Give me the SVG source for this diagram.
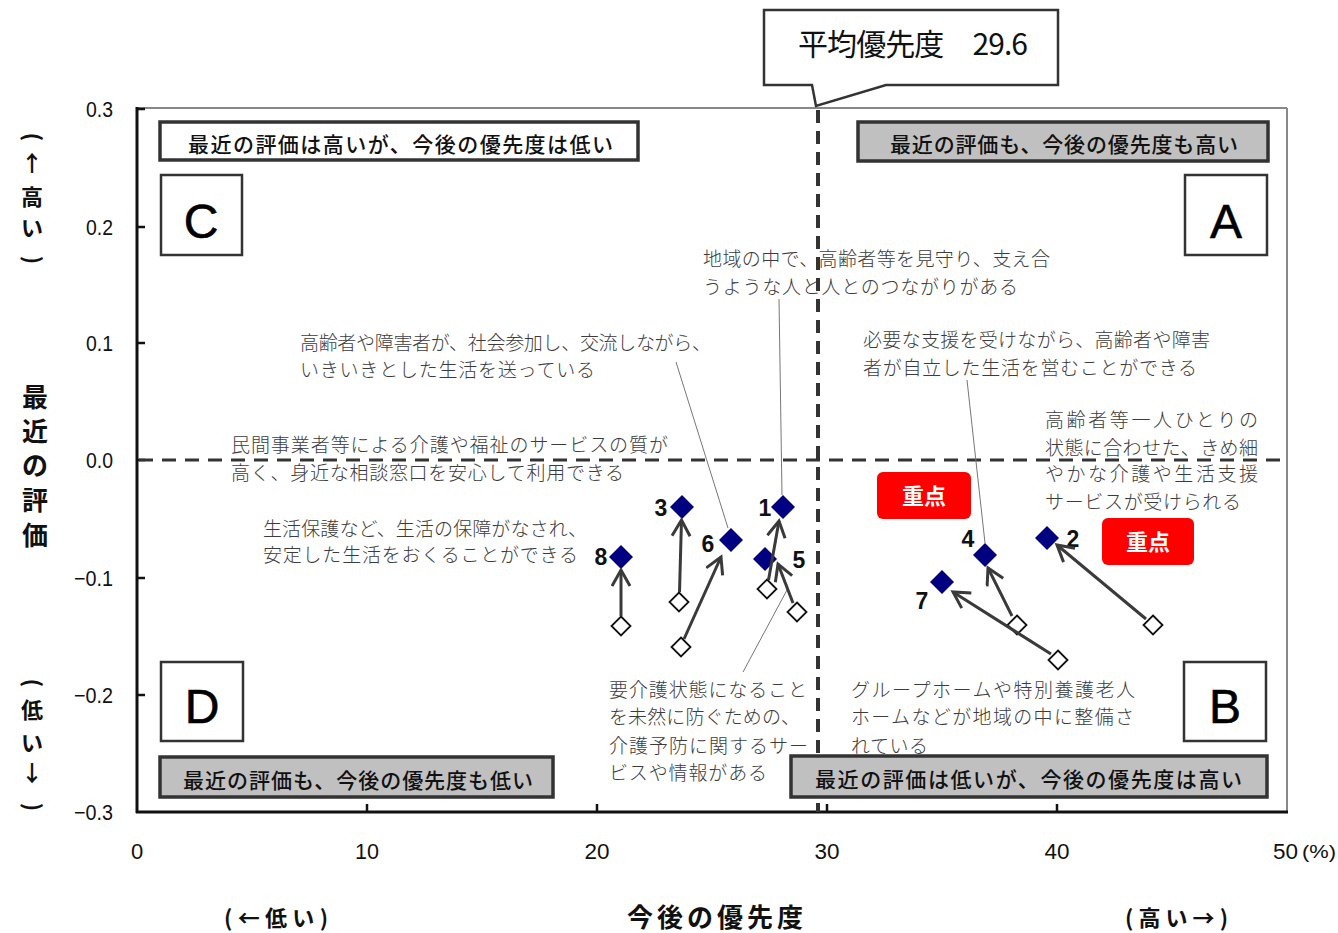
<svg xmlns="http://www.w3.org/2000/svg" width="1338" height="933" viewBox="0 0 1338 933">
<defs>
<style>
.ax{font-family:"Liberation Sans",Arial,sans-serif;font-size:22px;fill:#111}
.ann{font-family:"Noto Sans CJK JP",sans-serif;font-size:19px;fill:#3c3c3c;font-weight:300}
.hdr{font-family:"Noto Sans CJK JP",sans-serif;font-size:21px;fill:#111;font-weight:500}
.hbox{stroke:#333;stroke-width:3.5}
.qbox{fill:#fff;stroke:#333;stroke-width:2.5}
.ql{font-family:"Liberation Sans",Arial,sans-serif;font-size:48px;fill:#000;text-anchor:middle;stroke:#000;stroke-width:0.6}
.num{font-family:"Liberation Sans",Arial,sans-serif;font-size:23px;font-weight:bold;fill:#111;text-anchor:middle}
.fd{fill:#000080}
.od{fill:#fff;stroke:#111;stroke-width:1.8}
.arr{stroke:#3a3a3a;stroke-width:3;fill:none;marker-end:url(#ah)}
.lead{stroke:#777;stroke-width:1;fill:none}
.red{fill:#ff0000}
.rt{font-family:"Noto Sans CJK JP",sans-serif;font-size:22px;font-weight:bold;fill:#fff;text-anchor:middle}
.tt{font-family:"Noto Sans CJK JP",sans-serif;font-weight:bold;fill:#111}
.vt{font-family:"Noto Sans CJK JP",sans-serif;font-weight:bold;fill:#111;font-size:22px;text-anchor:middle}
</style>
<marker id="ah" markerUnits="userSpaceOnUse" markerWidth="24" markerHeight="24" refX="17" refY="10" orient="auto">
<path d="M1,1 L17,10 L1,19" fill="none" stroke="#3a3a3a" stroke-width="3"/>
</marker>
<path id="fdia" d="M0,-12 L12,0 L0,12 L-12,0Z"/>
<path id="odia" d="M0,-9.5 L9.5,0 L0,9.5 L-9.5,0Z"/>
</defs>
<rect width="1338" height="933" fill="#fff"/>

<g id="axes">
<line x1="137" y1="108" x2="1287" y2="108" stroke="#888" stroke-width="2"/>
<line x1="1287" y1="108" x2="1287" y2="812" stroke="#888" stroke-width="2"/>
<line x1="137" y1="107" x2="137" y2="813" stroke="#111" stroke-width="3"/>
<line x1="136" y1="812" x2="1288" y2="812" stroke="#111" stroke-width="3"/>
<g stroke="#111" stroke-width="2.5">
<line x1="137" y1="109" x2="145" y2="109"/>
<line x1="137" y1="227" x2="145" y2="227"/>
<line x1="137" y1="343" x2="145" y2="343"/>
<line x1="137" y1="460" x2="145" y2="460"/>
<line x1="137" y1="578" x2="145" y2="578"/>
<line x1="137" y1="695" x2="145" y2="695"/>
<line x1="367" y1="812" x2="367" y2="804"/>
<line x1="597" y1="812" x2="597" y2="804"/>
<line x1="827" y1="812" x2="827" y2="804"/>
<line x1="1057" y1="812" x2="1057" y2="804"/>
</g>
<g class="ax" text-anchor="end">
<text x="113" y="117" textLength="27" lengthAdjust="spacingAndGlyphs">0.3</text>
<text x="113" y="235" textLength="27" lengthAdjust="spacingAndGlyphs">0.2</text>
<text x="113" y="351" textLength="27" lengthAdjust="spacingAndGlyphs">0.1</text>
<text x="113" y="468" textLength="27" lengthAdjust="spacingAndGlyphs">0.0</text>
<text x="113" y="586" textLength="39" lengthAdjust="spacingAndGlyphs">−0.1</text>
<text x="113" y="703" textLength="39" lengthAdjust="spacingAndGlyphs">−0.2</text>
<text x="113" y="820" textLength="39" lengthAdjust="spacingAndGlyphs">−0.3</text>
</g>
<g class="ax" text-anchor="middle">
<text x="137" y="859">0</text>
<text x="367" y="859" textLength="24" lengthAdjust="spacingAndGlyphs">10</text>
<text x="597" y="859" textLength="25" lengthAdjust="spacingAndGlyphs">20</text>
<text x="827" y="859" textLength="25" lengthAdjust="spacingAndGlyphs">30</text>
<text x="1057" y="859" textLength="25" lengthAdjust="spacingAndGlyphs">40</text>
</g>
<text class="ax" x="1273" y="859" textLength="25" lengthAdjust="spacingAndGlyphs">50</text>
<text class="ax" x="1302" y="858" style="font-size:19px" textLength="34" lengthAdjust="spacingAndGlyphs">(%)</text>
<text class="tt" x="627" y="927" style="font-size:26px" textLength="176">今後の優先度</text>
<text class="tt" x="224" y="926" style="font-size:22px" textLength="104">(←低い)</text>
<text class="tt" x="1125" y="926" style="font-size:22px" textLength="103">(高い→)</text>
<g class="vt" style="font-size:26px">
<text x="35" y="407">最</text>
<text x="35" y="441">近</text>
<text x="35" y="475">の</text>
<text x="35" y="510">評</text>
<text x="35" y="545">価</text>
</g>
<g class="vt">
<text transform="translate(32,137) rotate(90)" dy="7">(</text>
<text x="32" y="171">↑</text>
<text x="32" y="205">高</text>
<text x="32" y="236">い</text>
<text transform="translate(32,260) rotate(90)" dy="7">)</text>
<text transform="translate(32,683) rotate(90)" dy="7">(</text>
<text x="32" y="718">低</text>
<text x="32" y="751">い</text>
<text x="32" y="781">↓</text>
<text transform="translate(32,807) rotate(90)" dy="7">)</text>
</g>
</g>

<g id="guides">
<line x1="818" y1="110" x2="818" y2="812" stroke="#333" stroke-width="4" stroke-dasharray="13 8"/>
<line x1="139" y1="460" x2="1287" y2="460" stroke="#333" stroke-width="3" stroke-dasharray="14 9"/>
</g>

<g id="avg-callout">
<polygon points="764,10 1058,10 1058,85 886,85 816,106 812,85 764,85" fill="#fff" stroke="#333" stroke-width="2.5"/>
<text x="798" y="55" style="font-family:'Noto Sans CJK JP',sans-serif;font-size:30px;fill:#111" textLength="230">平均優先度　29.6</text>
</g>

<g id="quadrant-C">
<rect class="hbox" x="160" y="122" width="478" height="38" fill="#fff"/>
<text class="hdr" x="188" y="152" textLength="425">最近の評価は高いが、今後の優先度は低い</text>
<rect class="qbox" x="161" y="175" width="81" height="80"/>
<text class="ql" x="201" y="238">C</text>
</g>
<g id="quadrant-A">
<rect class="hbox" x="858" y="122" width="410" height="39" fill="#c0c0c0"/>
<text class="hdr" x="890" y="152" textLength="348">最近の評価も、今後の優先度も高い</text>
<rect class="qbox" x="1185" y="175" width="82" height="80"/>
<text class="ql" x="1226" y="238">A</text>
</g>
<g id="quadrant-D">
<rect class="qbox" x="161" y="662" width="82" height="79"/>
<text class="ql" x="202" y="723">D</text>
<rect class="hbox" x="160" y="757" width="393" height="40" fill="#c0c0c0"/>
<text class="hdr" x="183" y="788" textLength="350">最近の評価も、今後の優先度も低い</text>
</g>
<g id="quadrant-B">
<rect class="qbox" x="1184" y="662" width="82" height="79"/>
<text class="ql" x="1225" y="723">B</text>
<rect class="hbox" x="791" y="756" width="476" height="41" fill="#c0c0c0"/>
<text class="hdr" x="815" y="787" textLength="427">最近の評価は低いが、今後の優先度は高い</text>
</g>

<g id="annotations" class="ann">
<text x="703" y="266" textLength="347">地域の中で、高齢者等を見守り、支え合</text>
<text x="703" y="294" textLength="315">うような人と人とのつながりがある</text>
<text x="300" y="350" textLength="411">高齢者や障害者が、社会参加し、交流しながら、</text>
<text x="300" y="377" textLength="295">いきいきとした生活を送っている</text>
<text x="231" y="452" textLength="437">民間事業者等による介護や福祉のサービスの質が</text>
<text x="231" y="480" textLength="393">高く、身近な相談窓口を安心して利用できる</text>
<text x="263" y="536" textLength="324">生活保護など、生活の保障がなされ、</text>
<text x="263" y="562" textLength="315">安定した生活をおくることができる</text>
<text x="609" y="697" textLength="198">要介護状態になること</text>
<text x="609" y="724" textLength="191">を未然に防ぐための、</text>
<text x="609" y="753" textLength="199">介護予防に関するサー</text>
<text x="609" y="780" textLength="158">ビスや情報がある</text>
<text x="851" y="697" textLength="284">グループホームや特別養護老人</text>
<text x="851" y="724" textLength="283">ホームなどが地域の中に整備さ</text>
<text x="851" y="753" textLength="77">れている</text>
<text x="863" y="347" textLength="347">必要な支援を受けながら、高齢者や障害</text>
<text x="863" y="375" textLength="334">者が自立した生活を営むことができる</text>
<text x="1045" y="427" textLength="213">高齢者等一人ひとりの</text>
<text x="1045" y="455" textLength="213">状態に合わせた、きめ細</text>
<text x="1045" y="481" textLength="213">やかな介護や生活支援</text>
<text x="1045" y="509" textLength="196">サービスが受けられる</text>
</g>

<g id="focus-1">
<rect class="red" x="877" y="472" width="94" height="47" rx="6"/>
<text class="rt" x="924" y="504">重点</text>
</g>
<g id="focus-2">
<rect class="red" x="1102" y="518" width="92" height="47" rx="6"/>
<text class="rt" x="1148" y="550">重点</text>
</g>

<g id="point-8"><use href="#fdia" class="fd" x="621" y="557"/><use href="#odia" class="od" x="621" y="626"/><text class="num" x="601" y="565">8</text></g>
<g id="point-3"><use href="#fdia" class="fd" x="682" y="507"/><use href="#odia" class="od" x="679" y="602"/><text class="num" x="661" y="516">3</text></g>
<g id="point-6"><use href="#fdia" class="fd" x="731" y="540"/><use href="#odia" class="od" x="681" y="647"/><text class="num" x="708" y="552">6</text></g>
<g id="point-5"><use href="#fdia" class="fd" x="765" y="559"/><use href="#odia" class="od" x="797" y="612"/><text class="num" x="799" y="568">5</text></g>
<g id="point-1"><use href="#fdia" class="fd" x="783" y="507"/><use href="#odia" class="od" x="767" y="589"/><text class="num" x="765" y="516">1</text></g>
<g id="point-7"><use href="#fdia" class="fd" x="942" y="582"/><use href="#odia" class="od" x="1058" y="660"/><text class="num" x="922" y="609">7</text></g>
<g id="point-4"><use href="#fdia" class="fd" x="985" y="555"/><use href="#odia" class="od" x="1017" y="625"/><text class="num" x="968" y="547">4</text></g>
<g id="point-2"><use href="#fdia" class="fd" x="1047" y="538"/><use href="#odia" class="od" x="1153" y="625"/><text class="num" x="1073" y="547">2</text></g>

<g id="connectors">
<line class="lead" x1="779" y1="299" x2="782" y2="495"/>
<line class="lead" x1="676" y1="362" x2="728" y2="528"/>
<line class="lead" x1="743" y1="672" x2="787" y2="590"/>
<line class="lead" x1="967" y1="380" x2="985" y2="543"/>
<line class="arr" x1="621" y1="616" x2="621" y2="570"/>
<line class="arr" x1="679.5" y1="592" x2="681.5" y2="520"/>
<line class="arr" x1="684" y1="639" x2="721" y2="557"/>
<line class="arr" x1="768.5" y1="580" x2="779" y2="521"/>
<line class="arr" x1="793" y1="603" x2="778" y2="564"/>
<line class="arr" x1="1012" y1="616" x2="988" y2="568"/>
<line class="arr" x1="1051" y1="654" x2="953" y2="592"/>
<line class="arr" x1="1146" y1="619" x2="1057" y2="545"/>
</g>
</svg>
